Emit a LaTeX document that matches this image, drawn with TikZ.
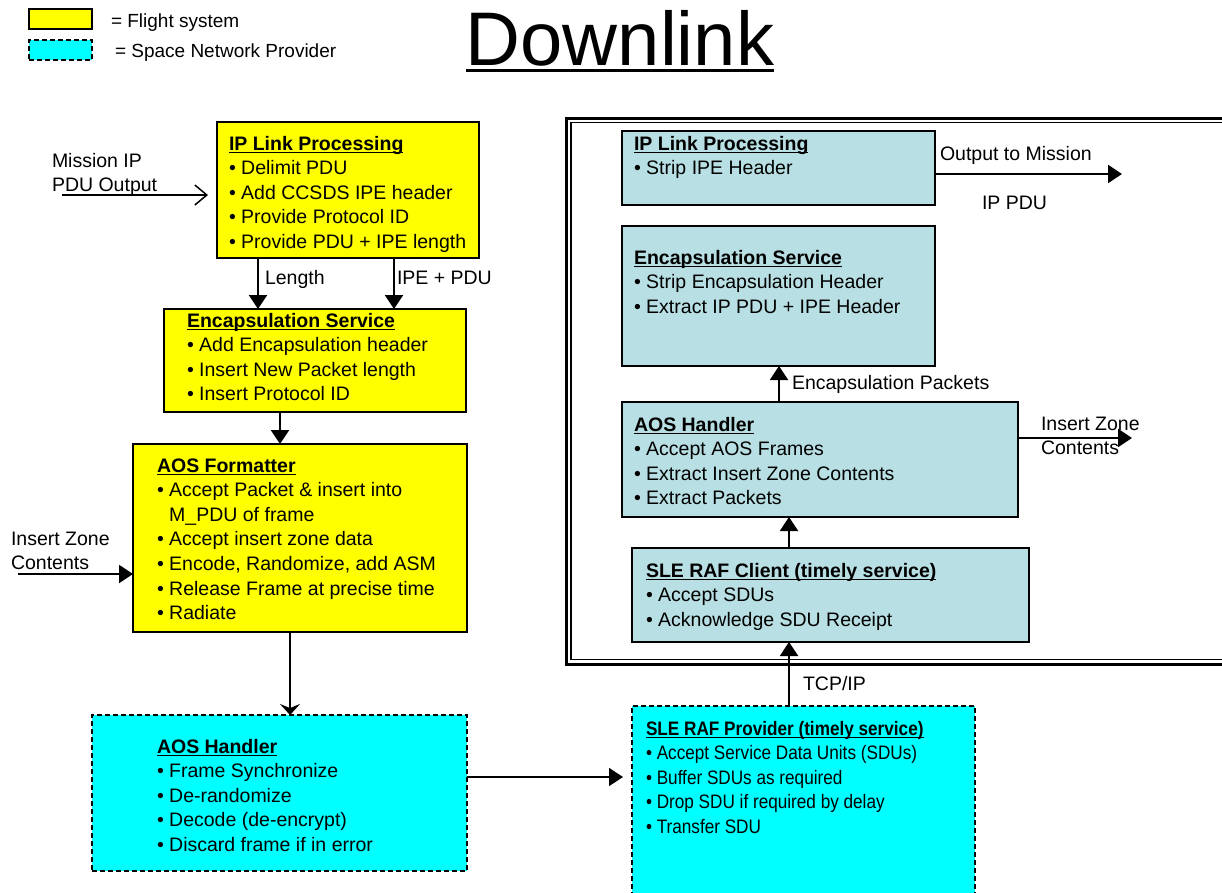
\documentclass[tikz,border=0pt]{standalone}
\usepackage{fontspec}
\setmainfont{Liberation Sans}
\newfontfamily\narrowfont[FakeStretch=0.88]{Liberation Sans}
\usetikzlibrary{arrows.meta,calc}
\newcommand\ulline[3]{\setbox0\hbox{#3}\rlap{\rule[#1]{\wd0}{#2}}\box0}
\newcommand\ulbf[1]{\ulline{-3pt}{1.4pt}{\bfseries #1}}
\definecolor{flight}{RGB}{255,255,0}
\definecolor{snp}{RGB}{0,255,255}
\definecolor{ground}{RGB}{184,223,227}
\tikzset{
  x=1pt, y=-1pt,
  box/.style={draw=black, line width=2pt, inner sep=0pt, outer sep=0pt, anchor=north west},
  fsys/.style={box, fill=flight},
  snpbox/.style={box, fill=snp, dash pattern=on 5pt off 3pt},
  gbox/.style={box, fill=ground},
  txt/.style={anchor=north west, inner sep=0pt, outer sep=0pt, align=left, font=\fontsize{19.5}{24.6}\selectfont},
  ntxt/.style={txt, font=\narrowfont\fontsize{19.5}{24.6}\selectfont},
  arr/.style={line width=2pt, -{Triangle[length=14pt,width=18pt]}},
}
\begin{document}
\begin{tikzpicture}
\useasboundingbox (0,0) rectangle (1222,892);
\clip (0,0) rectangle (1222,892);

% legend
\node[fsys, minimum width=63pt, minimum height=20pt] (legF) at (29,9) {};
\node[snpbox, minimum width=63pt, minimum height=20pt] (legS) at (29,40) {};
\node[txt, font=\fontsize{19}{24}\selectfont] (legFt) at (111,12) {\rule{0pt}{15pt}= Flight system};
\node[txt, font=\fontsize{19}{24}\selectfont] (legSt) at (115,42) {\rule{0pt}{15pt}= Space Network Provider};

% title
\node[anchor=base, inner sep=0pt, font=\fontsize{76}{80}\selectfont] (title) at (620,65) {\ulline{-7pt}{3pt}{Downlink}};

% outer frame
\node[draw, line width=3pt, minimum width=700pt, minimum height=546pt, anchor=north west, inner sep=0pt, outer sep=0pt] (frame) at (566.5,118) {};
\node[draw, line width=1.2pt, minimum width=700pt, minimum height=537pt, anchor=north west, inner sep=0pt, outer sep=0pt] (frameIn) at (571,122.5) {};

% left column boxes
\node[fsys, minimum width=262pt, minimum height=136pt] (L1) at (217,122) {};
\node[txt] (L1t) at (229,135) {\rule{0pt}{15pt}\ulbf{IP Link Processing}\\
• Delimit PDU\\
• Add CCSDS IPE header\\
• Provide Protocol ID\\
• Provide PDU + IPE length};

\node[fsys, minimum width=302pt, minimum height=103pt] (L2) at (164,309) {};
\node[txt] (L2t) at (187,312) {\rule{0pt}{15pt}\ulbf{Encapsulation Service}\\
• Add Encapsulation header\\
• Insert New Packet length\\
• Insert Protocol ID};

\node[fsys, minimum width=334pt, minimum height=188pt] (L3) at (133,444) {};
\node[txt] (L3t) at (157,457) {\rule{0pt}{15pt}\ulbf{AOS Formatter}\\
• Accept Packet \& insert into\\
\hphantom{• }M\_PDU of frame\\
• Accept insert zone data\\
• Encode, Randomize, add ASM\\
• Release Frame at precise time\\
• Radiate};

\node[snpbox, minimum width=375pt, minimum height=156pt] (L4) at (92,715) {};
\node[txt] (L4t) at (157,738) {\rule{0pt}{15pt}\ulbf{AOS Handler}\\
• Frame Synchronize\\
• De-randomize\\
• Decode (de-encrypt)\\
• Discard frame if in error};

% right column boxes
\node[snpbox, minimum width=343pt, minimum height=200pt] (R5) at (632,706) {};
\node[ntxt] (R5t) at (646,720) {\rule{0pt}{15pt}\ulbf{SLE RAF Provider (timely service)}\\
• Accept Service Data Units (SDUs)\\
• Buffer SDUs as required\\
• Drop SDU if required by delay\\
• Transfer SDU};

\node[gbox, minimum width=313pt, minimum height=74pt] (R1) at (622,131) {};
\node[txt] (R1t) at (634,135) {\rule{0pt}{15pt}\ulbf{IP Link Processing}\\
• Strip IPE Header};

\node[gbox, minimum width=313pt, minimum height=140pt] (R2) at (622,226) {};
\node[txt] (R2t) at (634,249) {\rule{0pt}{15pt}\ulbf{Encapsulation Service}\\
• Strip Encapsulation Header\\
• Extract IP PDU + IPE Header};

\node[gbox, minimum width=396pt, minimum height=115pt] (R3) at (622,402) {};
\node[txt] (R3t) at (634,416) {\rule{0pt}{15pt}\ulbf{AOS Handler}\\
• Accept AOS Frames\\
• Extract Insert Zone Contents\\
• Extract Packets};

\node[gbox, minimum width=397pt, minimum height=94pt] (R4) at (632,548) {};
\node[txt] (R4t) at (646,562) {\rule{0pt}{15pt}\ulbf{SLE RAF Client (timely service)}\\
• Accept SDUs\\
• Acknowledge SDU Receipt};

% connectors, left
\coordinate (mipS) at (62,195);
\draw[line width=1.5pt, -{Straight Barb[length=12pt,width=20pt]}, shorten >=9pt] (mipS) -- (mipS -| L1.west);
\node[txt] (mipL) at (52,152) {\rule{0pt}{15pt}Mission IP\\PDU Output};

\draw[arr] (258,0 |- L1.south) -- (258,0 |- L2.north);
\node[txt] (lenL) at (265,269) {\rule{0pt}{15pt}Length};
\draw[arr] (394,0 |- L1.south) -- (394,0 |- L2.north);
\node[txt] (ipeL) at (397,269) {\rule{0pt}{15pt}IPE + PDU};

\draw[arr] (280,0 |- L2.south) -- (280,0 |- L3.north);

\coordinate (izS) at (18,574);
\draw[arr] (izS) -- (izS -| L3.west);
\node[txt] (izL) at (11,530) {\rule{0pt}{15pt}Insert Zone\\Contents};

\draw[line width=1.5pt, -{Stealth[length=11pt,width=20pt,inset=4pt]}] (290,0 |- L3.south) -- (290,0 |- L4.north);

\draw[arr, line width=1.5pt, shorten >=9pt] (L4.east |- 0,777) -- (R5.west |- 0,777);

% connectors, right
\draw[arr] (789,0 |- R5.north) -- (789,0 |- R4.south);
\node[txt] (tcpL) at (803,675) {\rule{0pt}{15pt}TCP/IP};

\draw[arr] (789,0 |- R4.north) -- (789,0 |- R3.south);

\draw[arr] (779,0 |- R3.north) -- (779,0 |- R2.south);
\node[txt] (encL) at (792,374) {\rule{0pt}{15pt}Encapsulation Packets};

\coordinate (out1) at (1122,174);
\draw[arr] (R1.east |- out1) -- (out1);
\node[txt] (outL) at (940,145) {\rule{0pt}{15pt}Output to Mission};
\node[txt] (ippL) at (982,194) {\rule{0pt}{15pt}IP PDU};

\coordinate (out2) at (1132,438);
\draw[arr] (R3.east |- out2) -- (out2);
\node[txt] (iz2L) at (1041,415) {\rule{0pt}{15pt}Insert Zone\\Contents};
\end{tikzpicture}
\end{document}
